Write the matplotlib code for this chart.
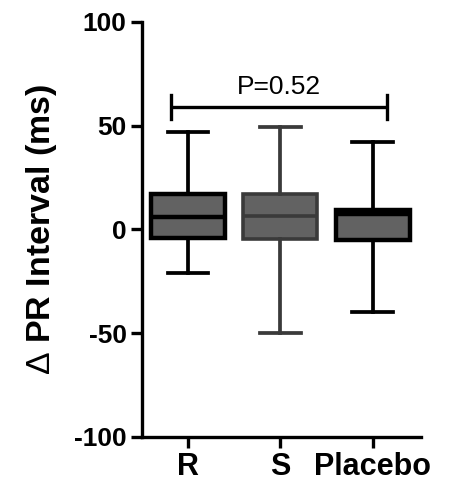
import matplotlib
matplotlib.use("Agg")
import matplotlib.pyplot as plt

categories = ["R", "S", "Placebo"]
whisker_low = [-21, -50, -40]
q1 = [-4, -4.5, -5]
median = [6, 6.3, 7.6]
q3 = [17, 17, 9.5]
whisker_high = [47, 49.5, 42]
edge_colors = ["#000000", "#3a3a3a", "#000000"]
p_text = "P=0.52"
p_level = 59

plt.rcParams['font.family'] = ['Liberation Sans', 'DejaVu Sans']
plt.rcParams['axes.unicode_minus'] = False
plt.rcParams['mathtext.fontset'] = 'custom'
plt.rcParams['mathtext.rm'] = 'Liberation Sans'
plt.rcParams['mathtext.it'] = 'Liberation Sans'
plt.rcParams['mathtext.bf'] = 'Liberation Sans:bold'

fig = plt.figure(figsize=(4.53, 4.86), dpi=100)
ax = fig.add_axes([0.313, 0.101, 0.616, 0.854])

positions = [1, 2, 3]
for i, cat in enumerate(categories):
    stats = [dict(label=cat, whislo=whisker_low[i], q1=q1[i], med=median[i],
                  q3=q3[i], whishi=whisker_high[i], fliers=[])]
    ec = edge_colors[i]
    lw = 3.2 if ec == "#000000" else 2.6
    ax.bxp(stats, positions=[positions[i]], widths=0.8, patch_artist=True,
           showfliers=False,
           boxprops=dict(facecolor="#626262", edgecolor=ec, linewidth=lw),
           medianprops=dict(color=ec, linewidth=lw),
           whiskerprops=dict(color=ec, linewidth=2.7),
           capprops=dict(color=ec, linewidth=2.7),
           capwidths=0.44)

ax.set_xlim(0.5, 3.52)
ax.set_ylim(-100, 100)
ax.set_yticks([-100, -50, 0, 50, 100])
ax.set_xticks(positions)
ax.set_xticklabels(categories, fontsize=22, fontweight='bold')
for lab in ax.get_yticklabels():
    lab.set_fontsize(19)
    lab.set_fontweight('bold')

for s in ['top', 'right']:
    ax.spines[s].set_visible(False)
for s in ['left', 'bottom']:
    ax.spines[s].set_linewidth(2.4)
ax.tick_params(axis='both', length=8, width=2.4, pad=3)

ax.set_ylabel(r"$\mathrm{\Delta}$ PR Interval (ms)", fontsize=24.5,
              fontweight='bold', labelpad=11)

# significance bracket
x1, x2 = 0.82, 3.15
ax.plot([x1, x2], [p_level, p_level], color="black", lw=2.4, solid_capstyle='butt')
ax.plot([x1, x1], [p_level - 6, p_level + 6], color="black", lw=2.4)
ax.plot([x2, x2], [p_level - 6, p_level + 6], color="black", lw=2.4)
ax.text((x1 + x2) / 2, p_level + 4, p_text, ha='center', va='bottom', fontsize=19)

fig.savefig("out.png", dpi=100)
